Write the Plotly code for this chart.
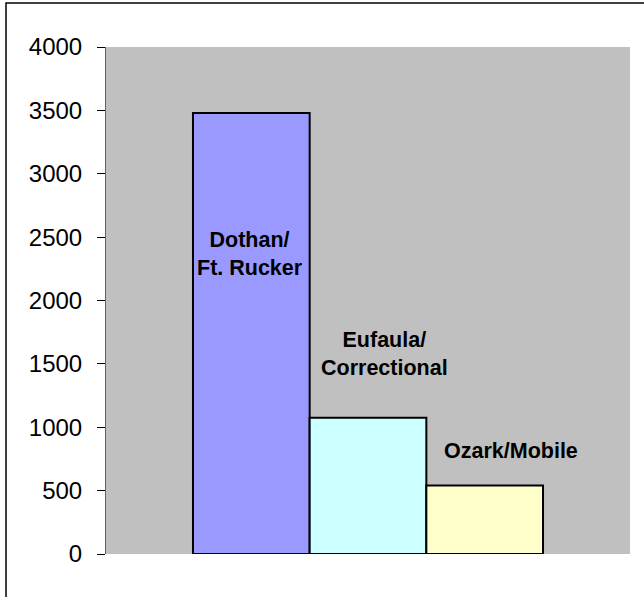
import plotly.graph_objects as go

# valeurs
sites = ["Dothan/<br>Ft. Rucker", "Eufaula/<br>Correctional", "Ozark/Mobile"]
totals = [3480, 1075, 540]
colors = ["#9999FF", "#CCFFFF", "#FFFFCC"]

# position des étiquettes (x en fraction de la zone, y en valeurs)
label_x = [0.275, 0.532, 0.773]
label_y = [2370, 1580, 810]

yticks = [0, 500, 1000, 1500, 2000, 2500, 3000, 3500, 4000]

fig = go.Figure()
for name, val, col in zip(sites, totals, colors):
    fig.add_trace(go.Bar(
        x=["Total"], y=[val], name=name,
        marker=dict(color=col, line=dict(color="#000000", width=2)),
    ))

for name, lx, ly in zip(sites, label_x, label_y):
    fig.add_annotation(
        x=lx, xref="paper", y=ly, yref="y", xanchor="center", yanchor="middle",
        text=f"<b>{name}</b>", showarrow=False,
        font=dict(family="Arial, Liberation Sans", size=21.5, color="#000000"),
    )

# cadre autour du graphique (coupé à droite et en bas)
fig.add_shape(type="rect", xref="paper", yref="paper",
              x0=-0.1908, x1=2, y0=-1, y1=1.0868,
              line=dict(color="#000000", width=1.5))

fig.update_layout(
    width=644, height=597,
    margin=dict(l=106, r=14, t=47, b=43),
    paper_bgcolor="#FFFFFF", plot_bgcolor="#C0C0C0",
    barmode="group", bargap=0.332, bargroupgap=0,
    showlegend=False,
    font=dict(family="Arial, Liberation Sans", size=24, color="#000000"),
)
fig.update_xaxes(showticklabels=False, showgrid=False, showline=False, ticks="")
fig.update_yaxes(
    range=[0, 4000], tickvals=yticks, showgrid=False, zeroline=False,
    showline=True, linecolor="#606060", linewidth=1,
    ticks="outside", ticklen=8, tickcolor="#000000",
    ticklabelstandoff=10,
)

# pas de marge autour du graphique dans la page, pas de barre d'outils
fig.write_html("out.html", config={"displayModeBar": False},
               post_script="document.body.style.margin='0';")
